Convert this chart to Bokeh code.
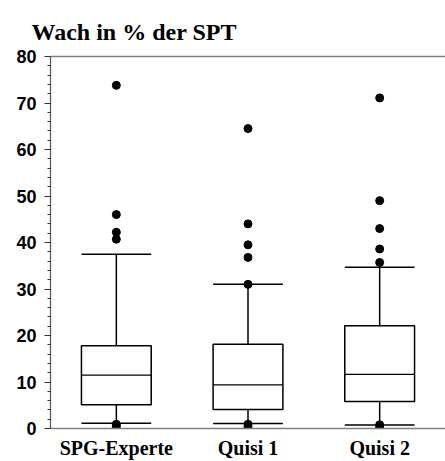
from bokeh.plotting import figure
from bokeh.models import (FactorRange, Range1d, CategoricalAxis, ColumnDataSource, FixedTicker)
from bokeh.transform import dodge
from bokeh.embed import file_html
from bokeh.resources import INLINE

# ---- data ----
categories = ["SPG-Experte", "Quisi 1", "Quisi 2"]
q1 = [5.1, 4.1, 5.8]
median = [11.5, 9.4, 11.65]
q3 = [17.8, 18.1, 22.1]
whisker_low = [1.15, 1.05, 0.75]
whisker_high = [37.5, 31.0, 34.7]
outliers_spg = [73.8, 46.0, 42.2, 40.7, 0.9, 0.4]
outliers_q1 = [64.5, 44.0, 39.5, 36.8, 31.0, 0.9, 0.4]
outliers_q2 = [71.1, 49.0, 43.0, 38.6, 35.7, 0.8, 0.3]
y_ticks = [0, 10, 20, 30, 40, 50, 60, 70, 80]
title_text = "Wach in % der SPT"

outliers = [outliers_spg, outliers_q1, outliers_q2]
ox, oy = [], []
for c, vals in zip(categories, outliers):
    ox += [c] * len(vals)
    oy += vals

src = ColumnDataSource(dict(cat=categories, q1=q1, med=median, q3=q3,
                            lo=whisker_low, hi=whisker_high))
osrc = ColumnDataSource(dict(x=ox, y=oy))

p = figure(width=445, height=461, output_backend="svg", toolbar_location=None,
           x_range=FactorRange(*categories), y_range=Range1d(0, 80),
           title=title_text,
           min_border_left=50, min_border_right=0, min_border_top=56,
           min_border_bottom=32)
p.outline_line_color = None
p.xgrid.visible = False
p.ygrid.visible = False
p.background_fill_color = "white"
p.border_fill_color = "white"

p.title.align = "left"
p.title.offset = -19
p.title.text_font = "Liberation Serif"
p.title.text_font_style = "bold"
p.title.text_font_size = "24px"
p.title.text_color = "black"
p.title.standoff = 23

BW = 0.53
# whiskers
p.segment(x0="cat", y0="q3", x1="cat", y1="hi", source=src, line_color="black", line_width=1.5)
p.segment(x0="cat", y0="q1", x1="cat", y1="lo", source=src, line_color="black", line_width=1.5)
p.segment(x0=dodge("cat", -BW / 2, range=p.x_range), y0="hi",
          x1=dodge("cat", BW / 2, range=p.x_range), y1="hi",
          source=src, line_color="black", line_width=1.5)
p.segment(x0=dodge("cat", -BW / 2, range=p.x_range), y0="lo",
          x1=dodge("cat", BW / 2, range=p.x_range), y1="lo",
          source=src, line_color="black", line_width=1.5)
# boxes
p.vbar(x="cat", width=BW, bottom="q1", top="q3", source=src,
       fill_color="white", line_color="black", line_width=1.5)
p.segment(x0=dodge("cat", -BW / 2, range=p.x_range), y0="med",
          x1=dodge("cat", BW / 2, range=p.x_range), y1="med",
          source=src, line_color="black", line_width=1.2)
# outliers
p.scatter(x="x", y="y", source=osrc, size=8, fill_color="black", line_color="black")

# y axis
ya = p.yaxis[0]
ya.ticker = FixedTicker(ticks=y_ticks, minor_ticks=[v for v in range(0, 81, 2)])
ya.axis_line_color = "#555555"
ya.axis_line_width = 1.2
ya.major_tick_out = 6
ya.major_tick_in = 0
ya.minor_tick_out = 3
ya.minor_tick_in = 0
ya.major_tick_line_color = "#333333"
ya.minor_tick_line_color = "#333333"
ya.major_label_text_font = "Liberation Sans"
ya.major_label_text_font_style = "bold"
ya.major_label_text_font_size = "18px"
ya.major_label_text_color = "black"
ya.major_label_standoff = 8

# x axis
xa = p.xaxis[0]
xa.axis_line_color = "#808080"
xa.axis_line_width = 1.5
xa.major_tick_out = 0
xa.major_tick_in = 0
xa.minor_tick_line_color = None
xa.major_label_text_font = "Liberation Serif"
xa.major_label_text_font_style = "bold"
xa.major_label_text_font_size = "20px"
xa.major_label_text_color = "black"
xa.major_label_standoff = 8

# top border line
top = CategoricalAxis(ticker=FixedTicker(ticks=[]), axis_line_color="#808080", axis_line_width=1.5,
                      major_tick_line_color=None, minor_tick_line_color=None,
                      major_tick_out=0, major_tick_in=0, major_label_standoff=0)
p.add_layout(top, "above")

open("out.html", "w").write(file_html(p, INLINE))
